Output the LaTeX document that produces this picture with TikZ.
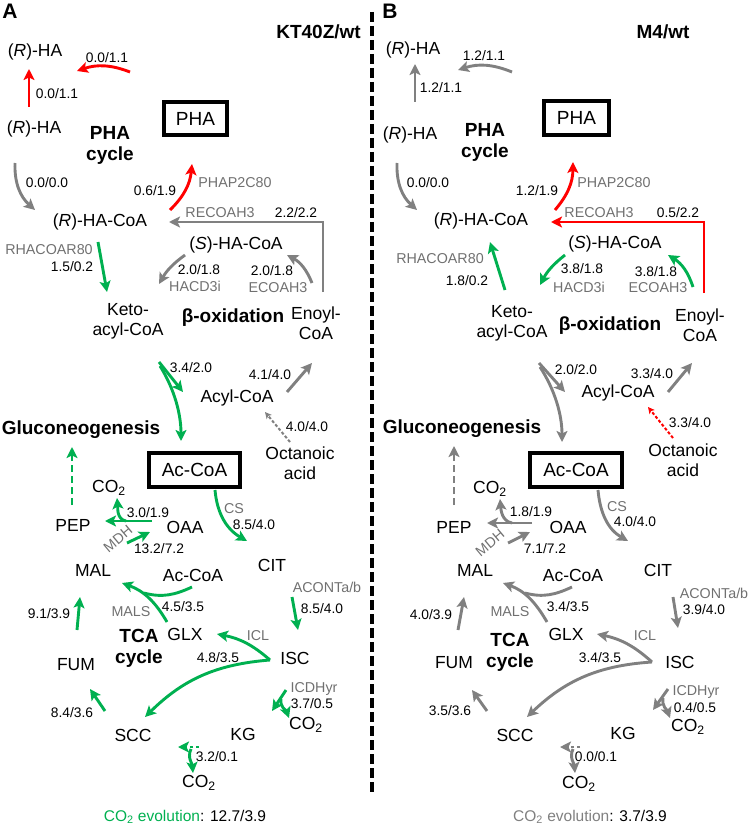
\documentclass[tikz,border=0pt]{standalone}
\usepackage{fontspec}
\setmainfont{Liberation Sans}
\usetikzlibrary{arrows.meta}
\definecolor{greenc}{RGB}{0,176,80}
\definecolor{redc}{RGB}{255,0,0}
\definecolor{grayc}{RGB}{128,128,128}
\definecolor{enzc}{RGB}{112,112,112}
\newcommand\arw[5]{\coordinate (#1s) at (#3); \coordinate (#1e) at (#4); \draw[#2] (#1s) #5 (#1e);}
\tikzset{
 lbl/.style={inner sep=0pt, font=\fontsize{17.5}{20}\selectfont},
 num/.style={inner sep=0pt, font=\fontsize{13.8}{15}\selectfont},
 enz/.style={inner sep=0pt, font=\fontsize{14.3}{16}\selectfont, text=enzc},
 hdr/.style={inner sep=0pt, font=\fontsize{19}{21}\selectfont\bfseries, align=center},
 boxn/.style={draw, line width=4pt, inner sep=0pt, font=\fontsize{19}{21}\selectfont},
 ar/.style={line width=2.9pt, -{Stealth[length=11pt,width=11pt,inset=2.5pt]}},
 rA/.style={ar, draw=redc}, gA/.style={ar, draw=greenc}, yA/.style={ar, draw=grayc},
 gN/.style={line width=2.9pt, draw=greenc}, yN/.style={line width=2.9pt, draw=grayc},
 smalltip/.style={-{Stealth[length=6.5pt,width=6.5pt,inset=1.5pt]}},
 gdash/.style={ar, draw=greenc, dash pattern=on 7pt off 4pt},
 ydash/.style={ar, draw=grayc, dash pattern=on 7pt off 4pt},
 ythin/.style={line width=2pt, draw=grayc, dash pattern=on 3pt off 2pt, smalltip},
 rthin/.style={line width=2pt, draw=redc, dash pattern=on 3pt off 2pt, smalltip},
 gdot/.style={ar, draw=greenc, dash pattern=on 3pt off 3pt},
 ydot/.style={ar, draw=grayc, dash pattern=on 3pt off 3pt},
}
\begin{document}
\begin{tikzpicture}[x=1pt,y=1pt]
\useasboundingbox (0,0) rectangle (750,-826);
% separator
\coordinate (sepT) at (372,-12); \coordinate (sepB) at (372,-793);
\draw[line width=4pt, dash pattern=on 10pt off 4pt] (sepT) -- (sepB);

%%%%%%%%%%%%%%%% PANEL A
\node[hdr, font=\fontsize{21}{23}\selectfont\bfseries] (labA) at (10,-11) {A};
\node[hdr, anchor=east] (tA) at (361,-32) {KT40Z/wt};
\node[lbl] (aRHA1) at (35,-52) {(\textit{R})-HA};
\node[lbl] (aRHA2) at (34,-129) {(\textit{R})-HA};
\node[hdr] (aPHAc) at (110,-145) {PHA\\cycle};
\node[boxn, minimum width=63pt, minimum height=33pt] (aPHA) at (195.5,-118.5) {PHA};
\node[lbl] (aRHACoA) at (100,-222) {(\textit{R})-HA-CoA};
\node[lbl] (aSHACoA) at (236,-245) {(\textit{S})-HA-CoA};
\node[lbl, align=center] (aKeto) at (128,-321) {Keto-\\acyl-CoA};
\node[hdr] (aBeta) at (233,-318) {β-oxidation};
\node[lbl, align=center] (aEnoyl) at (316,-323) {Enoyl-\\CoA};
\node[lbl] (aAcyl) at (237,-398) {Acyl-CoA};
\node[lbl, align=center] (aOct) at (300,-463) {Octanoic\\acid};
\node[hdr] (aGluco) at (81,-430) {Gluconeogenesis};
\node[boxn, minimum width=91pt, minimum height=34pt] (aAcCoA) at (194.5,-470) {Ac-CoA};
\node[lbl] (aCO2a) at (109,-488) {CO\textsubscript{2}};
\node[lbl] (aPEP) at (73,-525) {PEP};
\node[lbl] (aOAA) at (185,-527) {OAA};
\node[lbl] (aCIT) at (272,-565) {CIT};
\node[lbl] (aMAL) at (93,-570) {MAL};
\node[lbl] (aAcCoA2) at (193,-575) {Ac-CoA};
\node[lbl] (aGLX) at (185,-634) {GLX};
\node[hdr] (aTCA) at (139,-648) {TCA\\cycle};
\node[lbl] (aISC) at (295,-658) {ISC};
\node[lbl] (aFUM) at (76,-665) {FUM};
\node[lbl] (aSCC) at (133,-735) {SCC};
\node[lbl] (aKG) at (243,-734) {KG};
\node[lbl] (aCO2b) at (306,-725) {CO\textsubscript{2}};
\node[lbl] (aCO2c) at (199,-783) {CO\textsubscript{2}};
\node[inner sep=0pt, font=\fontsize{15.5}{17}\selectfont] (aEvo) at (185,-817) {\textcolor{greenc}{CO\textsubscript{2} evolution}: 12.7/3.9};
% labels A
\node[num] (an1) at (107,-58) {0.0/1.1};
\node[num] (an2) at (57,-94) {0.0/1.1};
\node[num] (an3) at (47,-183) {0.0/0.0};
\node[num] (an4) at (155,-191) {0.6/1.9};
\node[enz] (ae1) at (235,-183) {PHAP2C80};
\node[enz] (ae2) at (220,-213) {RECOAH3};
\node[num] (an5) at (296,-213) {2.2/2.2};
\node[enz] (ae3) at (49,-250) {RHACOAR80};
\node[num] (an6) at (72,-267) {1.5/0.2};
\node[num] (an7) at (199,-270) {2.0/1.8};
\node[enz] (ae4) at (195,-286) {HACD3i};
\node[num] (an8) at (272,-271) {2.0/1.8};
\node[enz] (ae5) at (278,-288) {ECOAH3};
\node[num] (an9) at (191,-368) {3.4/2.0};
\node[num] (an10) at (270,-375) {4.1/4.0};
\node[num] (an11) at (307,-427) {4.0/4.0};
\node[num] (an12) at (148,-513) {3.0/1.9};
\node[enz, rotate=40] (ae6) at (118,-539) {MDH};
\node[num] (an13) at (159,-549) {13.2/7.2};
\node[enz] (ae7) at (234,-509) {CS};
\node[num] (an14) at (254,-525) {8.5/4.0};
\node[num] (an15) at (183,-607) {4.5/3.5};
\node[enz] (ae8) at (131,-612) {MALS};
\node[enz] (ae9) at (327,-587) {ACONTa/b};
\node[num] (an16) at (322,-609) {8.5/4.0};
\node[num] (an17) at (49,-614) {9.1/3.9};
\node[enz] (ae10) at (258,-636) {ICL};
\node[num] (an18) at (218,-658) {4.8/3.5};
\node[enz] (ae11) at (314,-689) {ICDHyr};
\node[num] (an19) at (312,-704) {3.7/0.5};
\node[num] (an20) at (72,-713) {8.4/3.6};
\node[num] (an21) at (217,-757) {3.2/0.1};
% arrows A
\arw{a1}{rA}{130,-72}{77,-71}{to[bend right=20]}
\arw{a2}{rA}{29,-107}{29,-69}{--}
\arw{a3}{yA}{15,-163}{35,-210}{to[bend right=25]}
\arw{a4}{rA}{170,-210}{192,-164}{to[bend right=20]}
\arw{a5}{yA}{323,-292}{169,-222}{|-}
\arw{a6}{yA}{185,-255}{159,-284}{to[bend right=12]}
\arw{a7}{yA}{312,-283}{287,-255}{to[bend right=20]}
\arw{a8}{gA}{98,-242}{107,-292}{--}
\arw{a9}{gA}{159,-362}{183,-392}{--}
\arw{a10}{gA}{160,-366}{181,-441}{.. controls (175,-390) and (181,-415) ..}
\arw{a11}{yA}{287,-392}{312,-363}{--}
\arw{a12}{ythin}{290,-442}{265,-412}{--}
\arw{a13}{gdash}{72,-505}{72,-447}{--}
\arw{a14}{gA}{152,-521}{105,-521}{--}
\arw{a15}{gA}{126,-521}{117,-498}{to[out=170,in=-85]}
\arw{a16}{gA}{127,-543}{150,-532}{--}
\arw{a17}{gA}{215,-490}{247,-541}{to[out=-85,in=150]}
\arw{a18}{gA}{167,-622}{122,-583}{to[out=120,in=-20]}
\arw{a19}{gN}{192,-587}{144,-593}{to[out=-155,in=-15]}
\arw{a20}{gA}{292,-597}{298,-630}{--}
\arw{a21}{gA}{77,-630}{80,-597}{--}
\arw{a22}{gA}{270,-660}{217,-634}{to[bend right=15]}
\arw{a23}{gA}{270,-660}{145,-717}{to[bend right=20]}
\arw{a24}{gA}{286,-690}{272,-711}{--}
\arw{a25}{gA}{281,-699}{289,-718}{to[out=-100,in=110]}
\arw{a26}{gA}{105,-711}{90,-689}{--}
\arw{a27}{gdot}{199,-747}{178,-747}{--}
\arw{a28}{gA}{191,-749}{193,-773}{to[out=-115,in=95]}

%%%%%%%%%%%%%%%% PANEL B
\node[hdr, font=\fontsize{21}{23}\selectfont\bfseries] (labB) at (390,-11) {B};
\node[hdr] (tB) at (663,-32) {M4/wt};
\node[lbl] (bRHA1) at (413,-50) {(\textit{R})-HA};
\node[lbl] (bRHA2) at (410,-135) {(\textit{R})-HA};
\node[hdr] (bPHAc) at (485,-142) {PHA\\cycle};
\node[boxn, minimum width=65pt, minimum height=34pt] (bPHA) at (576.5,-118) {PHA};
\node[lbl] (bRHACoA) at (481,-221) {(\textit{R})-HA-CoA};
\node[lbl] (bSHACoA) at (615,-244) {(\textit{S})-HA-CoA};
\node[lbl, align=center] (bKeto) at (512,-323) {Keto-\\acyl-CoA};
\node[hdr] (bBeta) at (610,-326) {β-oxidation};
\node[lbl, align=center] (bEnoyl) at (700,-325) {Enoyl-\\CoA};
\node[lbl] (bAcyl) at (618,-393) {Acyl-CoA};
\node[lbl, align=center] (bOct) at (683,-460) {Octanoic\\acid};
\node[hdr] (bGluco) at (462,-429) {Gluconeogenesis};
\node[boxn, minimum width=92pt, minimum height=34pt] (bAcCoA) at (576,-470) {Ac-CoA};
\node[lbl] (bCO2a) at (490,-489) {CO\textsubscript{2}};
\node[lbl] (bPEP) at (454,-527) {PEP};
\node[lbl] (bOAA) at (568,-527) {OAA};
\node[lbl] (bCIT) at (658,-570) {CIT};
\node[lbl] (bMAL) at (475,-570) {MAL};
\node[lbl] (bAcCoA2) at (573,-575) {Ac-CoA};
\node[lbl] (bGLX) at (566,-634) {GLX};
\node[hdr] (bTCA) at (510,-652) {TCA\\cycle};
\node[lbl] (bISC) at (680,-662) {ISC};
\node[lbl] (bFUM) at (454,-663) {FUM};
\node[lbl] (bSCC) at (515,-735) {SCC};
\node[lbl] (bKG) at (623,-733) {KG};
\node[lbl] (bCO2b) at (688,-727) {CO\textsubscript{2}};
\node[lbl] (bCO2c) at (579,-784) {CO\textsubscript{2}};
\node[inner sep=0pt, font=\fontsize{15.5}{17}\selectfont] (bEvo) at (590,-817) {\textcolor{grayc}{CO\textsubscript{2} evolution}: 3.7/3.9};
% labels B
\node[num] (bn1) at (484,-56) {1.2/1.1};
\node[num] (bn2) at (441,-88) {1.2/1.1};
\node[num] (bn3) at (428,-183) {0.0/0.0};
\node[num] (bn4) at (537,-191) {1.2/1.9};
\node[enz] (be1) at (614,-183) {PHAP2C80};
\node[enz] (be2) at (599,-213) {RECOAH3};
\node[num] (bn5) at (678,-213) {0.5/2.2};
\node[enz] (be3) at (440,-259) {RHACOAR80};
\node[num] (bn6) at (467,-281) {1.8/0.2};
\node[num] (bn7) at (582,-269) {3.8/1.8};
\node[enz] (be4) at (579,-287) {HACD3i};
\node[num] (bn8) at (656,-272) {3.8/1.8};
\node[enz] (be5) at (658,-288) {ECOAH3};
\node[num] (bn9) at (576,-370) {2.0/2.0};
\node[num] (bn10) at (652,-374) {3.3/4.0};
\node[num] (bn11) at (690,-423) {3.3/4.0};
\node[num] (bn12) at (531,-512) {1.8/1.9};
\node[enz, rotate=40] (be6) at (490,-543) {MDH};
\node[num] (bn13) at (545,-549) {7.1/7.2};
\node[enz] (be7) at (617,-507) {CS};
\node[num] (bn14) at (635,-522) {4.0/4.0};
\node[num] (bn15) at (568,-607) {3.4/3.5};
\node[enz] (be8) at (510,-612) {MALS};
\node[enz] (be9) at (714,-593) {ACONTa/b};
\node[num] (bn16) at (704,-610) {3.9/4.0};
\node[num] (bn17) at (431,-615) {4.0/3.9};
\node[enz] (be10) at (645,-636) {ICL};
\node[num] (bn18) at (600,-658) {3.4/3.5};
\node[enz] (be11) at (696,-692) {ICDHyr};
\node[num] (bn19) at (695,-708) {0.4/0.5};
\node[num] (bn20) at (450,-711) {3.5/3.6};
\node[num] (bn21) at (596,-757) {0.0/0.1};
% arrows B
\arw{b1}{yA}{512,-72}{458,-70}{to[bend right=20]}
\arw{b2}{yA}{415,-102}{415,-64}{--}
\arw{b3}{yA}{397,-163}{417,-210}{to[bend right=25]}
\arw{b4}{rA}{555,-210}{573,-162}{to[bend right=20]}
\arw{b5}{rA}{704,-293}{551,-222}{|-}
\arw{b6}{gA}{565,-255}{540,-285}{to[bend right=12]}
\arw{b7}{gA}{693,-287}{668,-255}{to[bend right=20]}
\arw{b8}{gA}{505,-290}{490,-242}{--}
\arw{b9}{yA}{539,-363}{565,-392}{--}
\arw{b10}{yA}{540,-367}{562,-442}{.. controls (555,-390) and (562,-415) ..}
\arw{b11}{yA}{668,-392}{692,-363}{--}
\arw{b12}{rthin}{673,-438}{648,-407}{--}
\arw{b13}{ydash}{454,-505}{454,-446}{--}
\arw{b14}{yA}{532,-523}{487,-523}{--}
\arw{b15}{yA}{512,-523}{500,-499}{to[out=170,in=-85]}
\arw{b16}{yA}{508,-543}{530,-532}{--}
\arw{b17}{yA}{598,-490}{628,-541}{to[out=-85,in=150]}
\arw{b18}{yA}{547,-622}{503,-583}{to[out=120,in=-20]}
\arw{b19}{yN}{572,-587}{525,-593}{to[out=-155,in=-15]}
\arw{b20}{yA}{673,-597}{678,-628}{--}
\arw{b21}{yA}{458,-630}{464,-597}{--}
\arw{b22}{yA}{652,-662}{597,-634}{to[bend right=15]}
\arw{b23}{yA}{652,-662}{527,-717}{to[bend right=20]}
\arw{b24}{yA}{668,-689}{653,-710}{--}
\arw{b25}{yA}{663,-698}{670,-718}{to[out=-100,in=110]}
\arw{b26}{yA}{487,-711}{472,-690}{--}
\arw{b27}{ydot}{580,-747}{560,-747}{--}
\arw{b28}{yA}{573,-749}{575,-773}{to[out=-115,in=95]}
\end{tikzpicture}
\end{document}
